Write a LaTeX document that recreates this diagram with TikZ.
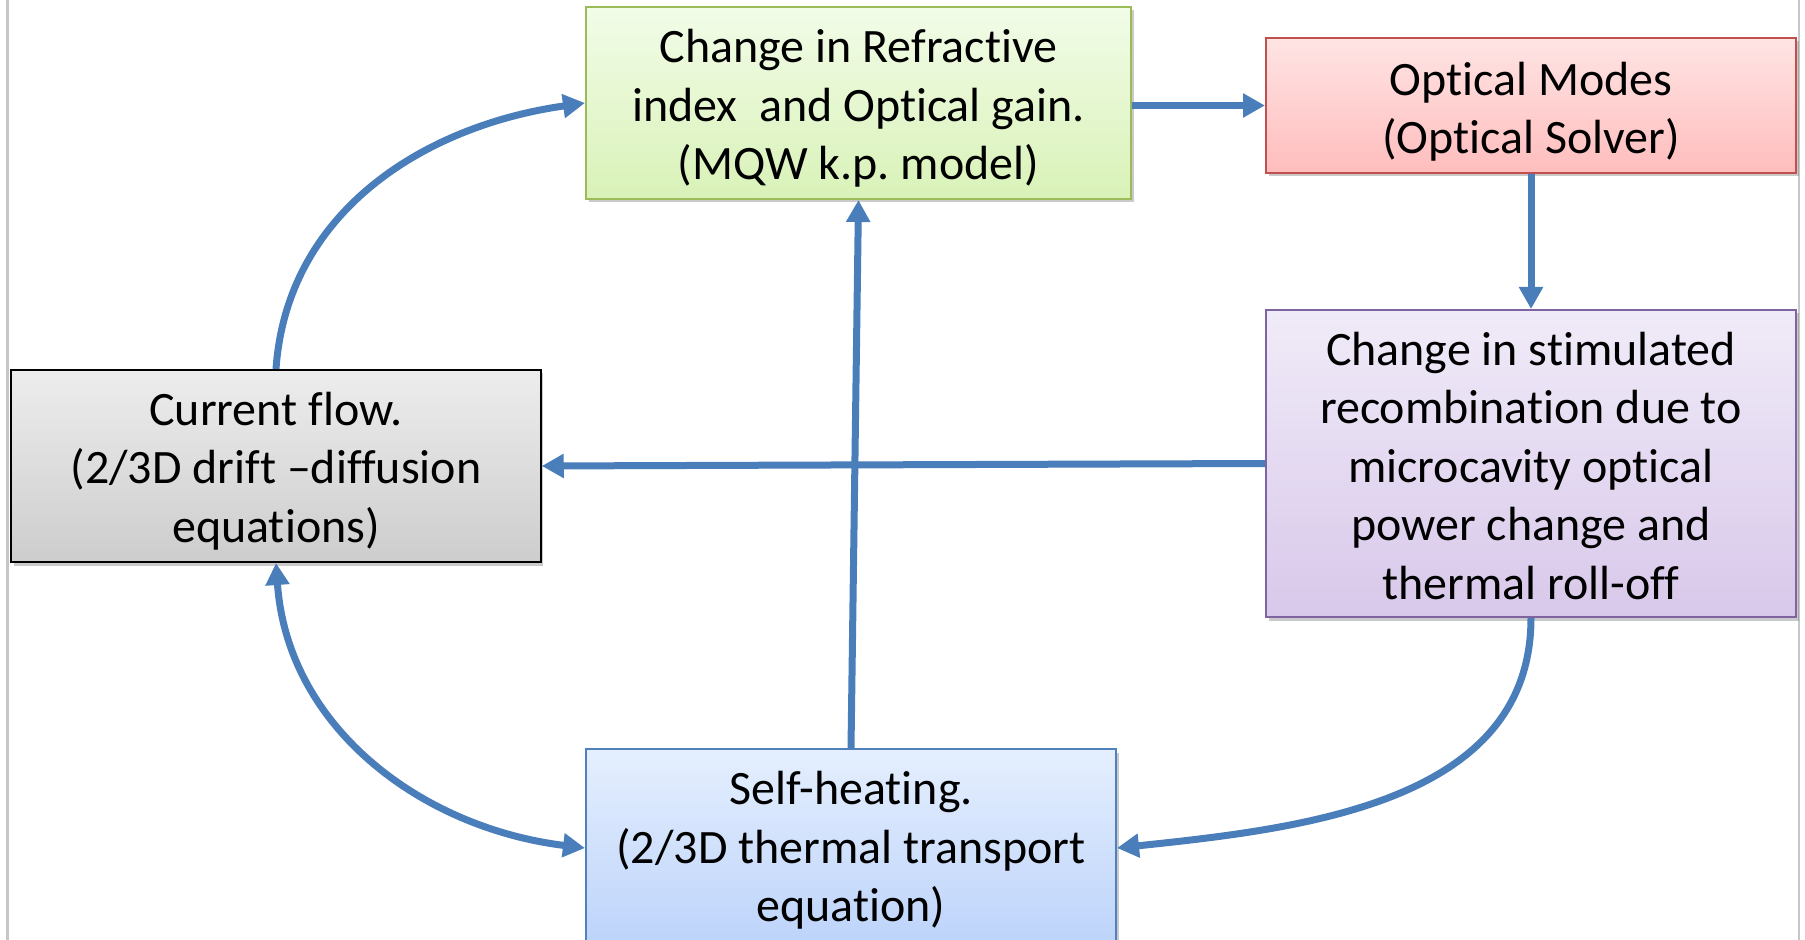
\documentclass[tikz,border=0pt]{standalone}
\usepackage{fontspec}
\setmainfont{Carlito}[Ligatures={NoCommon}]
\frenchspacing
\usetikzlibrary{arrows.meta, positioning, calc, shadows}
\definecolor{flowblue}{HTML}{4A7EBB}
\definecolor{grnline}{HTML}{9BBB59}
\definecolor{grntop}{HTML}{F2FCE8}
\definecolor{grnbot}{HTML}{D9F2B8}
\definecolor{redline}{HTML}{C0504D}
\definecolor{redtop}{HTML}{FFE4E4}
\definecolor{redbot}{HTML}{FFBDBD}
\definecolor{purline}{HTML}{8064A2}
\definecolor{purtop}{HTML}{F0EBF8}
\definecolor{purbot}{HTML}{D8C8EA}
\definecolor{gratop}{HTML}{EDEDED}
\definecolor{grabot}{HTML}{CDCDCD}
\definecolor{bluline}{HTML}{4F81BD}
\definecolor{blutop}{HTML}{E5EFFE}
\definecolor{blubot}{HTML}{BCD3FA}
\tikzset{
  blk/.style={draw, line width=0.04cm, minimum width=10.6cm, inner sep=0pt,
    drop shadow={shadow xshift=0.05cm, shadow yshift=-0.07cm, fill=black!60, opacity=0.35}},
  txt/.style={align=center, inner sep=0pt, font=\fontsize{27.3}{33.3}\selectfont},
  say/.style 2 args={label={[txt, yshift=#1]center:{#2}}},
  gbox/.style={blk, draw=grnline, top color=grntop, bottom color=grnbot},
  rbox/.style={blk, draw=redline, top color=redtop, bottom color=redbot},
  pbox/.style={blk, draw=purline, top color=purtop, bottom color=purbot},
  kbox/.style={blk, draw=black, top color=gratop, bottom color=grabot},
  ubox/.style={blk, draw=bluline, top color=blutop, bottom color=blubot},
  flo/.style={->, >={Triangle[length=0.44cm, width=0.46cm]}, line width=0.14cm, draw=flowblue},
  sidel/.style={draw=black!22, line width=0.05cm}
}

\begin{document}
\begin{tikzpicture}
	\useasboundingbox (0,0) rectangle (36.1,-18.8);
	\draw[sidel] (0.15,0) -- (0.15,-18.8);
	\draw[sidel] (35.98,0) -- (35.98,-18.8);
	\node[gbox, minimum width=10.9cm, minimum height=3.84cm,
	  say={-0.11cm}{Change in Refractive\\index\ \ and Optical gain.\\(MQW k.p. model)}] (refr) at (17.17,-2.06) {};
	\node[rbox, minimum height=2.7cm,
	  say={-0.12cm}{Optical Modes\\(Optical Solver)}] (modes) at (30.62,-2.11) {};
	\node[pbox, minimum height=6.14cm,
	  say={-0.05cm}{Change in stimulated\\recombination due to\\microcavity optical\\power change and\\thermal roll-off}] (stim) at (30.62,-9.27) {};
	\node[kbox, minimum width=10.59cm, minimum height=3.84cm,
	  say={-0.10cm}{Current flow.\\(2/3D drift –diffusion\\equations)}] (flow) at (5.52,-9.32) {};
	\node[ubox, minimum height=3.96cm,
	  say={-0.05cm}{Self-heating.\\(2/3D thermal transport\\equation)}] (heat) at (17.02,-16.96) {};
	\draw[flo] (flow.north) to[out=86, in=188] (refr.west);
	\draw[flo] (refr.east |- modes.west) -- (modes.west);
	\draw[flo] (modes.south) -- (stim.north);
	\draw[flo] (stim.west) -- (flow.east);
	\draw[flo] (heat.north) -- (refr.south);
	\draw[flo, <->] (flow.south) to[out=-86, in=173] (heat.west);
	\draw[flo] (stim.south) to[out=-90, in=6] (heat.east);
\end{tikzpicture}
\end{document}
